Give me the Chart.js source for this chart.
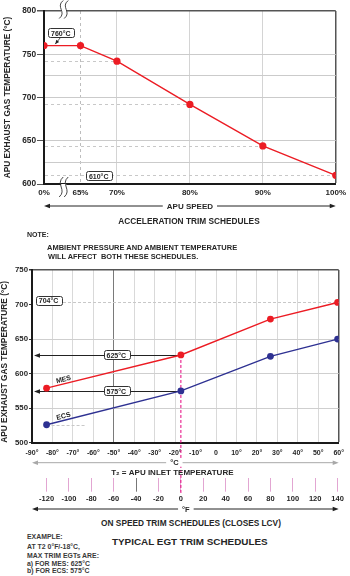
<!DOCTYPE html>
<html>
<head>
<meta charset="utf-8">
<title>Typical EGT trim schedules</title>
<script src="https://cdn.jsdelivr.net/npm/chart.js@4.4.1/dist/chart.umd.min.js"></script>
<style>
  html, body { margin: 0; padding: 0; background: #fff; }
  body { position: relative; width: 350px; height: 576px; overflow: hidden;
         font-family: "Liberation Sans", Arial, sans-serif; font-weight: bold; color: #262626; }
  .box { position: absolute; left: 0; width: 350px; }
  .t { position: absolute; white-space: pre; line-height: 10px; }
  .ex { color: #3a3a3a; font-size: 6.9px; line-height: 8px; }
</style>
</head>
<body>
<div class="box" style="top:0;height:230px"><canvas id="accel"></canvas></div>
<div class="box" style="top:262px;height:254px"><canvas id="onspeed"></canvas></div>

<div class="t" style="left:0;width:378px;text-align:center;top:216px;font-size:8.3px">ACCELERATION TRIM SCHEDULES</div>
<div class="t" style="left:27px;top:230px;font-size:7px">NOTE:</div>
<div class="t" style="left:47px;top:243px;font-size:7.5px">AMBIENT PRESSURE AND AMBIENT TEMPERATURE</div>
<div class="t" style="left:48px;top:252px;font-size:7.4px">WILL AFFECT  BOTH THESE SCHEDULES.</div>

<div class="t" style="left:0;width:382px;text-align:center;top:518px;font-size:8.3px">ON SPEED TRIM SCHEDULES (CLOSES LCV)</div>
<div class="t" style="left:112px;top:537px;font-size:9.9px">TYPICAL EGT TRIM SCHEDULES</div>
<div class="t ex" style="left:27px;top:533px">EXAMPLE:</div>
<div class="t ex" style="left:27px;top:543px">AT T2 0°F/-18°C,</div>
<div class="t ex" style="left:27px;top:552px">MAX TRIM EGTs ARE:</div>
<div class="t ex" style="left:27px;top:560px">a) FOR MES: 625°C</div>
<div class="t ex" style="left:27px;top:567px">b) FOR ECS: 575°C</div>

<script>
// acceleration trim schedule (top chart)
const SPEED_LABELS = ['0%', '65%', '70%', '80%', '90%', '100%'];
const SPEED_POS = [60, 65, 70, 80, 90, 100]; // axis is broken between 0% and 65%
const ACCEL_EGT = [760, 760, 742, 692, 644, 610];
const ACCEL_Y_TICKS = [600, 650, 700, 750, 800];
const ACCEL_GRID = [600, 625, 650, 700, 725, 750, 800];

// on speed trim schedules (bottom chart), inlet temperature in °F
const INLET_F = [-120, 0, 80, 140];
const MES_EGT = [579, 627, 679, 703];
const ECS_EGT = [526, 575, 625, 650];
const MES_LIMIT = 704;
const TAG_MES = '625°C';
const TAG_ECS = '575°C';
const CELSIUS_TICKS = [-90, -80, -70, -60, -50, -40, -30, -20, -10, 0, 10, 20, 30, 40, 50, 60];
const FAHRENHEIT_TICKS = [-120, -100, -80, -60, -40, -20, 0, 20, 40, 60, 80, 100, 120, 140];
const ONSPEED_Y_TICKS = [500, 550, 600, 650, 700, 750];

const RED = '#ec1c24';
const NAVY = '#2e3192';
const FONT = '"Liberation Sans", Arial, "DejaVu Sans", sans-serif';

Chart.defaults.font.family = FONT;
Chart.defaults.font.weight = 'bold';
Chart.defaults.color = '#262626';

function head(ctx, x, y, ang, len, w) {
  ctx.beginPath();
  ctx.moveTo(x, y);
  ctx.lineTo(x - len * Math.cos(ang) + w * Math.sin(ang), y - len * Math.sin(ang) - w * Math.cos(ang));
  ctx.lineTo(x - len * Math.cos(ang) - w * Math.sin(ang), y - len * Math.sin(ang) + w * Math.cos(ang));
  ctx.closePath();
  ctx.fill();
}

// horizontal line with arrow heads on both ends and a label in a gap
function arrowAxis(ctx, x1, x2, y, color, text, tx, size) {
  ctx.save();
  ctx.strokeStyle = color; ctx.fillStyle = color; ctx.lineWidth = 1;
  ctx.beginPath(); ctx.moveTo(x1 + 3, y); ctx.lineTo(x2 - 3, y); ctx.stroke();
  head(ctx, x1, y, Math.PI, 6, 2.3);
  head(ctx, x2, y, 0, 6, 2.3);
  ctx.font = 'bold ' + size + 'px ' + FONT;
  const w = ctx.measureText(text).width;
  ctx.fillStyle = '#fff';
  ctx.fillRect(tx - w / 2 - 4, y - 4, w + 8, 8);
  ctx.fillStyle = '#262626'; ctx.textAlign = 'center'; ctx.textBaseline = 'middle';
  ctx.fillText(text, tx, y + 0.5);
  ctx.restore();
}

function tag(ctx, cx, cy, text) {
  ctx.save();
  ctx.font = 'bold 7px ' + FONT;
  const w = ctx.measureText(text).width + 6, h = 9;
  ctx.beginPath();
  ctx.roundRect(Math.round(cx - w / 2) + 0.5, Math.round(cy - h / 2) + 0.5, Math.round(w), h, 2);
  ctx.fillStyle = '#fff'; ctx.fill();
  ctx.strokeStyle = '#333'; ctx.lineWidth = 1; ctx.stroke();
  ctx.fillStyle = '#262626'; ctx.textAlign = 'center'; ctx.textBaseline = 'middle';
  ctx.fillText(text, cx, cy + 1);
  ctx.restore();
}

// axis break: two S strokes with the border erased between them
function breakMark(ctx, cx, cy, h) {
  ctx.save();
  ctx.fillStyle = '#fff';
  ctx.fillRect(cx - 2.5, cy - 3, 5, 6);
  ctx.strokeStyle = '#333'; ctx.lineWidth = 0.9;
  [-2.5, 2.5].forEach(d => {
    const x = cx + d, t = cy - h / 2;
    ctx.beginPath();
    ctx.moveTo(x + 2, t);
    ctx.bezierCurveTo(x - 6, t + h * 0.35, x + 6, t + h * 0.65, x - 2, t + h);
    ctx.stroke();
  });
  ctx.restore();
}

const accelDeco = {
  id: 'accelDeco',
  beforeDatasetsDraw(chart) {
    const {ctx, chartArea: a, scales: {x, y}} = chart;
    ctx.save();
    ctx.strokeStyle = '#c8c8c8'; ctx.lineWidth = 1; ctx.setLineDash([3, 3]);
    SPEED_POS.forEach((p, i) => {
      if (ACCEL_EGT[i] === ACCEL_EGT[0]) return;
      const py = Math.round(y.getPixelForValue(ACCEL_EGT[i])) + 0.5;
      ctx.beginPath(); ctx.moveTo(a.left + 1, py); ctx.lineTo(x.getPixelForValue(p), py); ctx.stroke();
    });
    ctx.restore();
  },
  afterDraw(chart) {
    const {ctx, chartArea: a, scales: {x, y}} = chart;
    // 760°C callout with its small arrow
    const cx = x.getPixelForValue(62.3), cy = y.getPixelForValue(775);
    ctx.save();
    ctx.strokeStyle = '#222'; ctx.fillStyle = '#222'; ctx.lineWidth = 0.8;
    const ex = cx - 5.5, ey = y.getPixelForValue(ACCEL_EGT[0]) - 1.5;
    ctx.beginPath(); ctx.moveTo(cx, cy + 4.5); ctx.lineTo(ex, ey); ctx.stroke();
    head(ctx, ex, ey, Math.atan2(ey - cy - 4.5, ex - cx), 4, 1.8);
    ctx.restore();
    tag(ctx, cx, cy, ACCEL_EGT[0] + '°C');
    tag(ctx, x.getPixelForValue(67.5), y.getPixelForValue(ACCEL_EGT[5]) + 0.5, ACCEL_EGT[5] + '°C');
    // breaks in the speed axis between 0% and 65%
    const bx = x.getPixelForValue(62.7);
    breakMark(ctx, bx, a.top - 1.5, 18);
    breakMark(ctx, bx, a.bottom + 3, 20);
    arrowAxis(ctx, a.left, a.right, a.bottom + 22, '#222', 'APU SPEED', (a.left + a.right) / 2, 8);
  }
};

new Chart(document.getElementById('accel'), {
  type: 'line',
  data: {
    datasets: [{
      data: SPEED_POS.map((p, i) => ({x: p, y: ACCEL_EGT[i]})),
      borderColor: RED, backgroundColor: RED, borderWidth: 1.4,
      pointRadius: 3.6, pointHoverRadius: 3.6, pointBorderWidth: 0, tension: 0
    }]
  },
  options: {
    responsive: true, maintainAspectRatio: false, animation: false,
    layout: {padding: {top: 11, right: 14, left: 0, bottom: 0}},
    plugins: {legend: {display: false}, tooltip: {enabled: false}},
    scales: {
      x: {
        type: 'linear', min: 60, max: 100,
        afterBuildTicks: s => { s.ticks = SPEED_POS.map(v => ({value: v})); },
        afterFit: s => { s.height = 46; },
        ticks: {callback: (v, i) => SPEED_LABELS[i], font: {size: 8}, padding: 4, autoSkip: false, maxRotation: 0},
        grid: {
          drawTicks: false,
          color: c => {
            const v = c.tick && c.tick.value;
            if (v === 60) return 'rgba(0,0,0,0)';
            if (v === 100) return '#555';
            if (v === 65) return '#bdbdbd';
            return '#d4d4d4';
          },
          lineWidth: c => (c.tick && c.tick.value === 100) ? 1.5 : 1
        },
        border: {color: '#1a1a1a', width: 2, dash: c => (c.tick && c.tick.value === 65) ? [3, 3] : []}
      },
      y: {
        min: 600, max: 800,
        afterBuildTicks: s => { s.ticks = ACCEL_GRID.map(v => ({value: v})); },
        afterFit: s => { s.width = 44; },
        ticks: {callback: v => ACCEL_Y_TICKS.includes(v) ? v : '', font: {size: 8.3}, padding: 1},
        grid: {
          tickLength: 7,
          color: c => {
            const v = c.tick && c.tick.value;
            if (v === 800) return '#555';
            if (v === 600) return 'rgba(0,0,0,0)';
            return '#cbcbcb';
          },
          lineWidth: c => (c.tick && c.tick.value === 800) ? 1.5 : 1,
          tickColor: c => ACCEL_Y_TICKS.includes(c.tick && c.tick.value) ? '#555' : 'rgba(0,0,0,0)'
        },
        border: {color: '#1a1a1a', width: 2},
        title: {display: true, text: 'APU EXHAUST GAS TEMPERATURE (°C)', font: {size: 8.3}, padding: {top: 3, bottom: 0}}
      }
    }
  },
  plugins: [accelDeco]
});

const onSpeedDeco = {
  id: 'onSpeedDeco',
  beforeDatasetsDraw(chart) {
    const {ctx, chartArea: a, scales: {xF, y}} = chart;
    const px = INLET_F.map(v => xF.getPixelForValue(v));
    const mes = MES_EGT.map(v => y.getPixelForValue(v));
    const ecs = ECS_EGT.map(v => y.getPixelForValue(v));
    ctx.save();
    ctx.lineWidth = 1;
    // 704°C limit
    ctx.strokeStyle = '#c8c8c8'; ctx.setLineDash([3, 2]);
    const ly = Math.round(y.getPixelForValue(MES_LIMIT)) + 0.5;
    ctx.beginPath(); ctx.moveTo(a.left + 31, ly); ctx.lineTo(a.right, ly); ctx.stroke();
    const ey = Math.round(ecs[0]) + 0.5;
    ctx.beginPath(); ctx.moveTo(px[0], ey); ctx.lineTo(px[0] + 40, ey); ctx.stroke();
    // 0°F reading
    ctx.strokeStyle = '#e6007e';
    ctx.beginPath(); ctx.moveTo(px[1], mes[1]); ctx.lineTo(px[1], xF.top + 17); ctx.stroke();
    ctx.setLineDash([]);
    ctx.strokeStyle = '#222'; ctx.fillStyle = '#222';
    [mes[1], ecs[1]].forEach(v => {
      const yy = Math.round(v) + 0.5;
      ctx.beginPath(); ctx.moveTo(px[1], yy); ctx.lineTo(a.left + 6, yy); ctx.stroke();
      head(ctx, a.left + 2, yy, Math.PI, 6, 2.3);
    });
    ctx.restore();
    tag(ctx, a.left + 16.5, ly - 2.5, MES_LIMIT + '°C');
    tag(ctx, a.left + 84.3, mes[1], TAG_MES);
    tag(ctx, a.left + 84.3, ecs[1], TAG_ECS);
    // series names along the lines
    [['MES', mes], ['ECS', ecs]].forEach(([name, s]) => {
      ctx.save();
      ctx.translate(px[0] + 17, s[0] - 8.5);
      ctx.rotate(Math.atan2(s[1] - s[0], px[1] - px[0]));
      ctx.font = 'bold 7px ' + FONT; ctx.fillStyle = '#262626';
      ctx.textAlign = 'center'; ctx.textBaseline = 'middle';
      ctx.fillText(name, 0, 0);
      ctx.restore();
    });
  },
  afterDraw(chart) {
    const {ctx, chartArea: a, scales: {xF}} = chart;
    const mid = (a.left + a.right) / 2;
    arrowAxis(ctx, a.left, a.right, a.bottom + 20, '#a8a8a8', '°C', mid - 11, 7.5);
    ctx.save();
    ctx.font = 'bold 8px ' + FONT; ctx.fillStyle = '#262626';
    ctx.textAlign = 'center'; ctx.textBaseline = 'middle';
    ctx.fillText('T₂ = APU INLET TEMPERATURE', mid - 13, a.bottom + 30.5);
    ctx.restore();
    arrowAxis(ctx, a.left, a.right, xF.top + 31.3, '#222', '°F', mid + 0.5, 7.5);
  }
};

new Chart(document.getElementById('onspeed'), {
  type: 'line',
  data: {
    datasets: [
      {label: 'MES', xAxisID: 'xF', data: INLET_F.map((f, i) => ({x: f, y: MES_EGT[i]})),
       borderColor: RED, backgroundColor: RED, borderWidth: 1.4, pointRadius: 3.4, pointBorderWidth: 0, tension: 0},
      {label: 'ECS', xAxisID: 'xF', data: INLET_F.map((f, i) => ({x: f, y: ECS_EGT[i]})),
       borderColor: NAVY, backgroundColor: NAVY, borderWidth: 1.4, pointRadius: 3.4, pointBorderWidth: 0, tension: 0}
    ]
  },
  options: {
    responsive: true, maintainAspectRatio: false, animation: false,
    layout: {padding: {top: 8, right: 7, left: 0, bottom: 0}},
    plugins: {legend: {display: false}, tooltip: {enabled: false}},
    scales: {
      x: {
        type: 'linear', min: -90, max: 60,
        afterBuildTicks: s => { s.ticks = CELSIUS_TICKS.map(v => ({value: v})); },
        afterFit: s => { s.height = 35; },
        ticks: {callback: v => v === 0 ? '0' : v + '°', font: {size: 7}, padding: 6, autoSkip: false, maxRotation: 0},
        grid: {
          drawTicks: false,
          color: c => {
            const v = c.tick && c.tick.value;
            if (v === -90) return 'rgba(0,0,0,0)';
            if (v === 60) return '#555';
            if (v === -50) return '#7a7a7a';
            return '#d9d9d9';
          },
          lineWidth: c => (c.tick && c.tick.value === 60) ? 1.5 : 1
        },
        border: {color: '#1a1a1a', width: 2}
      },
      xF: {
        type: 'linear', position: 'bottom', weight: 1, min: -133, max: 141,
        afterBuildTicks: s => { s.ticks = FAHRENHEIT_TICKS.map(v => ({value: v})); },
        afterFit: s => { s.height = 38.3; },
        ticks: {font: {size: 7.5}, padding: 3, autoSkip: false, maxRotation: 0},
        grid: {
          drawOnChartArea: false, drawTicks: true, tickLength: 14, tickWidth: 1,
          tickColor: c => (c.tick && c.tick.value === -40) ? '#777' : '#e2a6d2'
        },
        border: {display: false}
      },
      y: {
        min: 500, max: 750,
        afterBuildTicks: s => { s.ticks = ONSPEED_Y_TICKS.map(v => ({value: v})); },
        afterFit: s => { s.width = 32; },
        ticks: {font: {size: 7.8}, padding: 1},
        grid: {
          tickLength: 3, tickColor: '#333',
          color: c => {
            const v = c.tick && c.tick.value;
            if (v === 750) return '#555';
            if (v === 500 || v === 700) return 'rgba(0,0,0,0)';
            return '#cfcfcf';
          },
          lineWidth: c => (c.tick && c.tick.value === 750) ? 1.5 : 1
        },
        border: {color: '#1a1a1a', width: 2},
        title: {display: true, text: 'APU EXHAUST GAS TEMPERATURE (°C)', align: 'start', font: {size: 8.3}, padding: {top: 0, bottom: 0}}
      }
    }
  },
  plugins: [onSpeedDeco]
});
</script>
</body>
</html>
